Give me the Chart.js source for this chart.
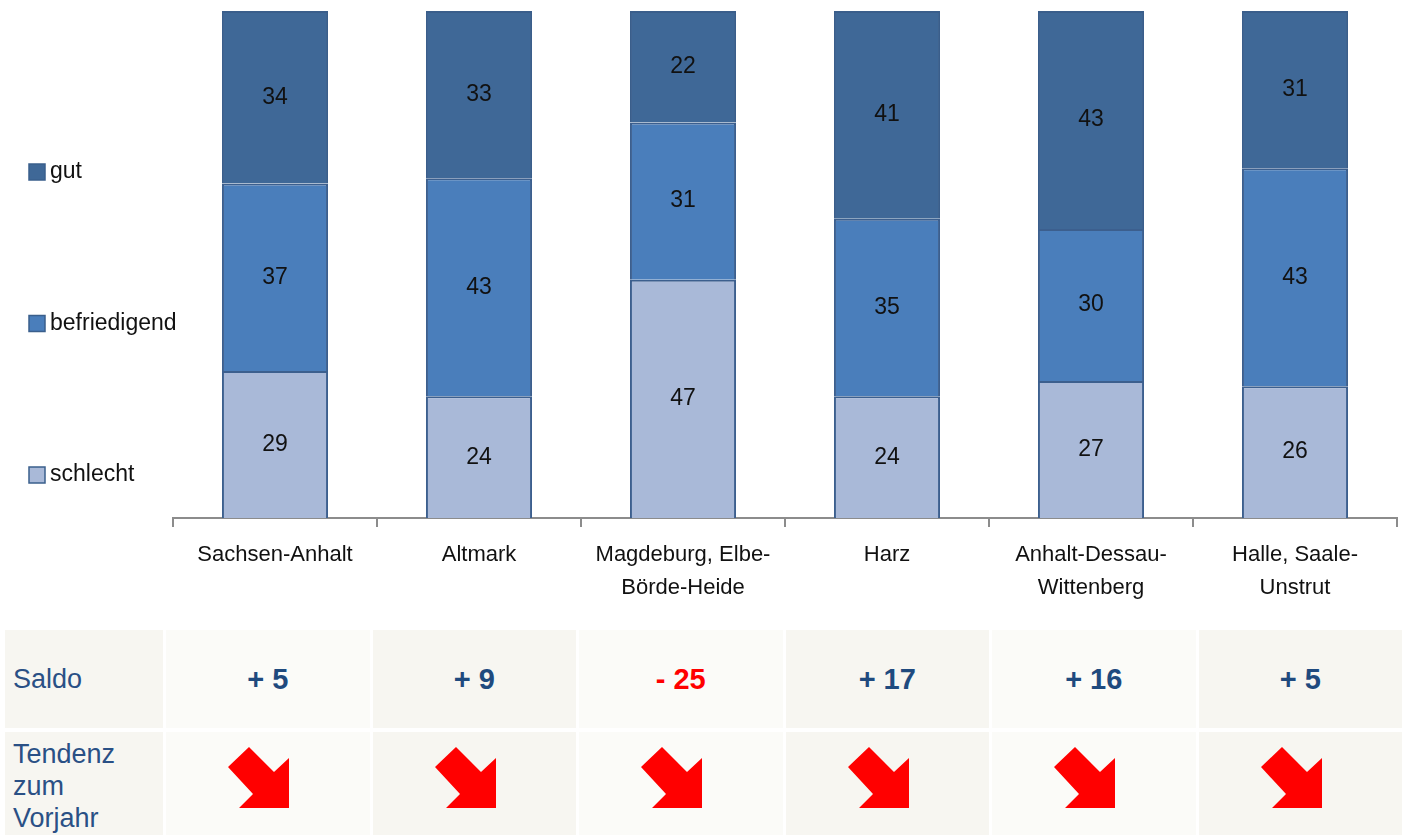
<!DOCTYPE html>
<html>
<head>
<meta charset="utf-8">
<script src="https://cdn.jsdelivr.net/npm/chart.js@4"></script>
<style>
  body { margin: 0; background: #fff; font-family: "Liberation Sans", Arial, sans-serif; }
  #wrap { position: relative; width: 1402px; height: 620px; }
  #tbl {
    position: absolute; top: 630px; left: 5px; width: 1397px;
    display: grid; grid-template-columns: 158px repeat(6, 1fr);
    grid-template-rows: 98px 103px; column-gap: 3px; row-gap: 4px;
  }
  #tbl div { background: #f7f6f1; }
  #tbl div.light { background: #fbfbf8; }
  .lab { color: #2a5085; font-size: 27px; padding-left: 8px; }
  .saldo { display: flex; align-items: center; justify-content: center; font-weight: bold; font-size: 29px; color: #1f4a7e; }
  .arrow { display: flex; align-items: center; justify-content: center; }
</style>
</head>
<body>
<div id="wrap"><canvas id="c"></canvas></div>
<div id="tbl"></div>
<script>
const regions = ["Sachsen-Anhalt", "Altmark", ["Magdeburg, Elbe-", "Börde-Heide"], "Harz", ["Anhalt-Dessau-", "Wittenberg"], ["Halle, Saale-", "Unstrut"]];
const gut = [34, 33, 22, 41, 43, 31];
const befriedigend = [37, 43, 31, 35, 30, 43];
const schlecht = [29, 24, 47, 24, 27, 26];
const saldo = [5, 9, -25, 17, 16, 5];
const tendenz = ["down", "down", "down", "down", "down", "down"];

// values inside each segment
const valueLabels = {
  id: 'valueLabels',
  afterDatasetsDraw(chart) {
    const ctx = chart.ctx;
    ctx.save();
    ctx.font = '23px "Liberation Sans", Arial';
    ctx.fillStyle = '#111';
    ctx.textAlign = 'center';
    ctx.textBaseline = 'middle';
    chart.data.datasets.forEach((ds, i) => {
      chart.getDatasetMeta(i).data.forEach((bar, j) => {
        const p = bar.getCenterPoint();
        ctx.fillText(ds.data[j], p.x, p.y);
      });
    });
    ctx.restore();
  }
};

// legend spread down the left side, top item = top segment
const sideLegend = {
  id: 'sideLegend',
  afterDraw(chart) {
    const ctx = chart.ctx;
    const items = chart.data.datasets.slice().reverse();
    ctx.save();
    ctx.font = '23px "Liberation Sans", Arial';
    ctx.textBaseline = 'middle';
    items.forEach((ds, i) => {
      const y = chart.chartArea.top + 161 + i * 151.5;
      ctx.fillStyle = ds.backgroundColor;
      ctx.fillRect(29, y - 8, 16, 16);
      ctx.strokeStyle = '#3a5f8c';
      ctx.lineWidth = 1.5;
      ctx.strokeRect(29, y - 8, 16, 16);
      ctx.fillStyle = '#111';
      ctx.fillText(ds.label, 50, y);
    });
    ctx.restore();
  }
};

new Chart("c", {
  type: 'bar',
  data: {
    labels: regions,
    datasets: [
      { label: "schlecht", data: schlecht, backgroundColor: "#a9b9d8", borderColor: "#3c5f8e", borderWidth: 2 },
      { label: "befriedigend", data: befriedigend, backgroundColor: "#4a7ebb", borderColor: "#3c5f8e", borderWidth: 2 },
      { label: "gut", data: gut, backgroundColor: "#3f6897", borderColor: "#3a5e8b", borderWidth: 2 }
    ]
  },
  options: {
    responsive: true,
    maintainAspectRatio: false,
    animation: false,
    barPercentage: 0.52,
    categoryPercentage: 1,
    layout: { padding: { left: 173, right: 5, top: 11, bottom: 5 } },
    plugins: { legend: { display: false }, tooltip: { enabled: false } },
    scales: {
      x: {
        stacked: true,
        border: { display: true, color: '#8c8c8c', width: 2 },
        grid: { offset: true, drawOnChartArea: false, drawTicks: true, tickLength: 9, color: '#8c8c8c', lineWidth: 2 },
        ticks: { color: '#111', padding: 11, maxRotation: 0, autoSkip: false,
                 font: { family: '"Liberation Sans", Arial', size: 22, lineHeight: 1.5 } }
      },
      y: { stacked: true, display: false, min: 0, max: 100 }
    }
  },
  plugins: [valueLabels, sideLegend]
});

// table under the chart
const tbl = document.getElementById('tbl');
const arrowSvg = '<svg width="61" height="61" style="margin:0 18px 12px 0"><polygon fill="#ff0000" points="0,20 21,0 46,25 61,11 61,61 11,61 25,47"/></svg>';
function cell(cls, html) {
  const d = document.createElement('div');
  d.className = cls;
  d.innerHTML = html;
  tbl.appendChild(d);
}
cell('lab', '<div style="background:none;display:flex;align-items:center;height:100%">Saldo</div>');
saldo.forEach((v, i) => {
  const txt = (v < 0 ? '- ' : '+ ') + Math.abs(v);
  cell('saldo' + (i % 2 === 0 ? ' light' : ''), '<span style="color:' + (v < 0 ? '#ff0000' : '#1f4a7e') + '">' + txt + '</span>');
});
cell('lab', '<div style="background:none;line-height:32px;padding-top:6px">Tendenz<br>zum<br>Vorjahr</div>');
tendenz.forEach((t, i) => {
  cell('arrow' + (i % 2 === 0 ? ' light' : ''), t === 'down' ? arrowSvg : '');
});
</script>
</body>
</html>
